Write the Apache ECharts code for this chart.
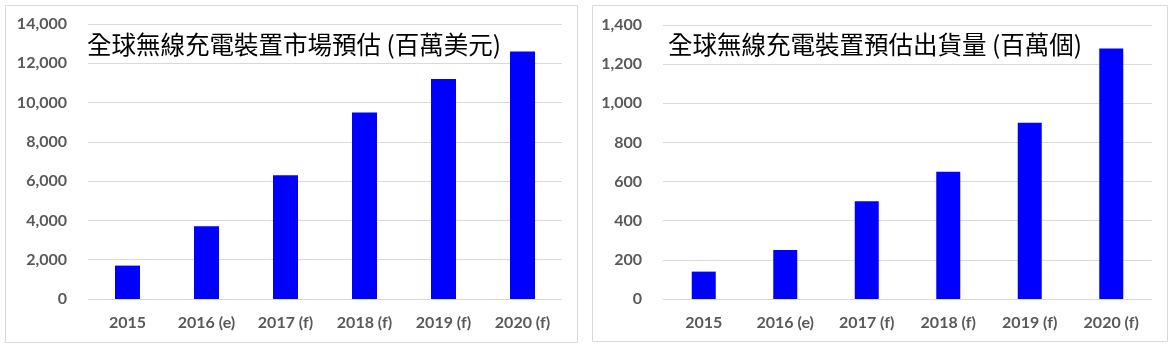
<!DOCTYPE html>
<html><head><meta charset="utf-8">
<script src="https://cdn.jsdelivr.net/npm/echarts@6/dist/echarts.min.js"></script>
<style>html,body{margin:0;padding:0;background:#fff}#c{width:1176px;height:351px}</style>
</head><body><div id="c"></div>
<script>
const categories = ['2015','2016 (e)','2017 (f)','2018 (f)','2019 (f)','2020 (f)'];
const marketValues = [1700, 3700, 6300, 9500, 11200, 12600];
const shipmentValues = [140, 250, 500, 650, 900, 1280];
const leftTitle = '全球無線充電裝置市場預估 (百萬美元)';
const rightTitle = '全球無線充電裝置預估出貨量 (百萬個)';

const chart = echarts.init(document.getElementById('c'));
const axisLabelStyle = {color:'#595959', fontFamily:'Lato', fontWeight:'bold', fontSize:16};
function xAxis(gi){return {type:'category', gridIndex:gi, data:categories,
  axisLine:{show:false}, axisTick:{show:false}, axisLabel:Object.assign({margin:16}, axisLabelStyle)};}
function yAxis(gi,max,interval){return {type:'value', gridIndex:gi, min:0, max:max, interval:interval,
  axisLine:{show:false}, axisTick:{show:false},
  splitLine:{lineStyle:{color:'#d9d9d9', width:1}},
  axisLabel:Object.assign({margin:21, formatter:v=>v.toLocaleString('en-US')}, axisLabelStyle)};}
const titleStyle = {fontFamily:'Noto Sans CJK TC', fontWeight:'normal', fontSize:24.5, color:'#000', lineHeight:26};
chart.setOption({
  animation:false,
  title:[
    {text:leftTitle, left:87, top:32, padding:0, textStyle:titleStyle},
    {text:rightTitle, left:668, top:32, padding:0, textStyle:titleStyle}
  ],
  graphic:[
    {type:'rect', shape:{x:5.5,y:5.5,width:572,height:337}, style:{fill:'none', stroke:'#d9d9d9', lineWidth:1}, z:-1},
    {type:'rect', shape:{x:592.5,y:5.5,width:575,height:336}, style:{fill:'none', stroke:'#d9d9d9', lineWidth:1}, z:-1}
  ],
  grid:[
    {left:88, right:614, top:24, bottom:52},
    {left:663, right:24, top:25, bottom:52}
  ],
  xAxis:[xAxis(0), xAxis(1)],
  yAxis:[yAxis(0,14000,2000), yAxis(1,1400,200)],
  series:[
    {type:'bar', xAxisIndex:0, yAxisIndex:0, data:marketValues, barWidth:25, itemStyle:{color:'#0000ff'}},
    {type:'bar', xAxisIndex:1, yAxisIndex:1, data:shipmentValues, barWidth:24, itemStyle:{color:'#0000ff'}}
  ]
});
</script></body></html>
